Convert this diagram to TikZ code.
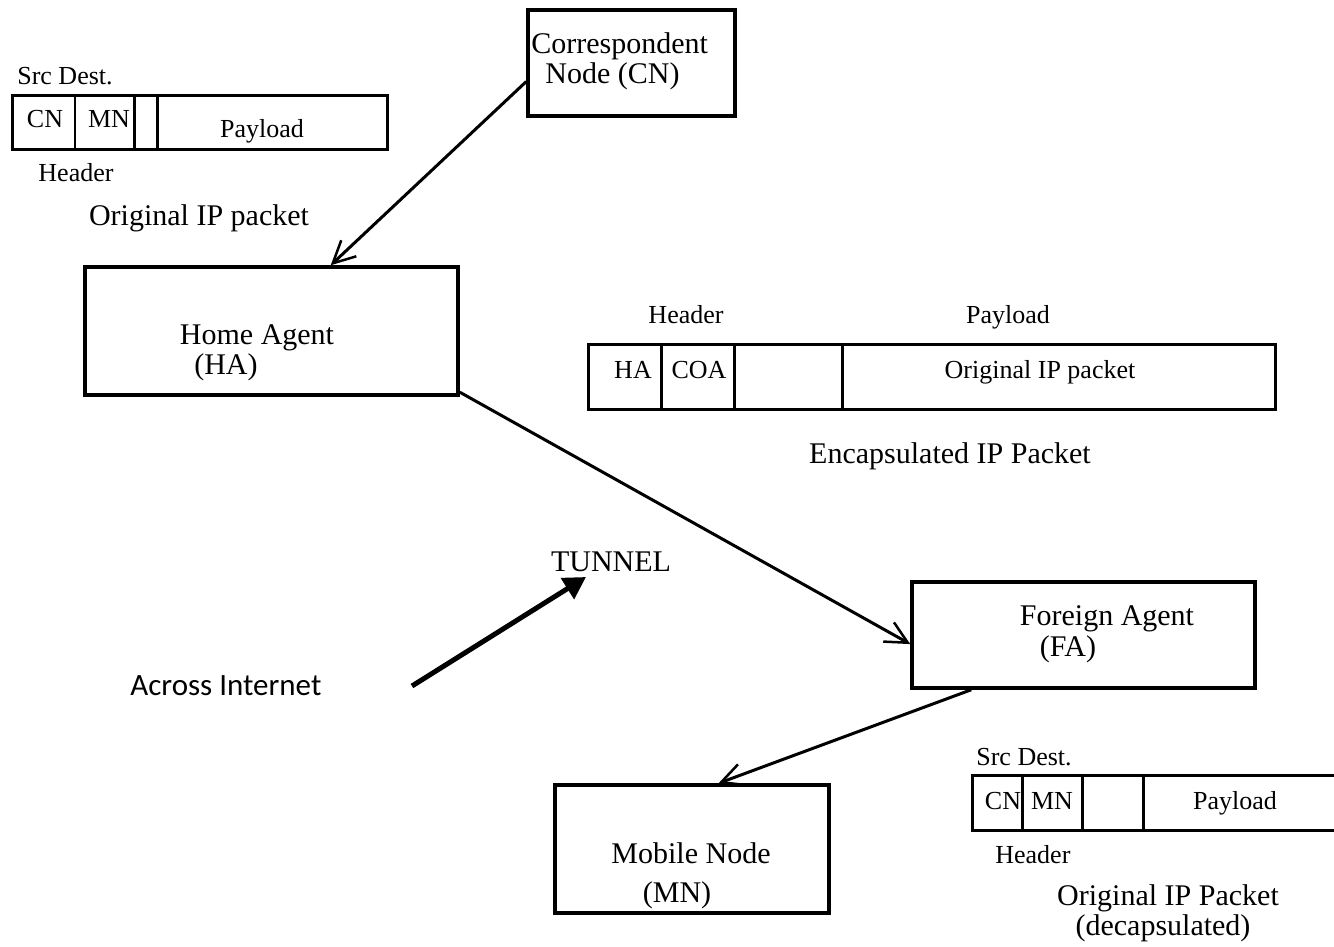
\documentclass[tikz,border=0pt]{standalone}
\usepackage{fontspec}
\setmainfont{Liberation Serif}
\newfontfamily\calibfont{Carlito}
\usetikzlibrary{arrows.meta}

\tikzset{every picture/.style={line width=0.75pt}}
\tikzset{
  agentbox/.style={draw, line width=3.5pt, rectangle, inner sep=0pt},
  pkt/.style={line width=3pt},
  thindiv/.style={line width=1.5pt},
  txt/.style={inner sep=0pt, anchor=base, font=\fontsize{26}{28}\selectfont},
  bigtxt/.style={inner sep=0pt, anchor=base, font=\fontsize{30}{32}\selectfont},
  link/.style={line width=3pt, -{Straight Barb[length=22pt,width=22pt,line width=2.5pt]}},
  pointer/.style={line width=5pt, -{Triangle[length=22pt,width=24pt]}}
}

\begin{document}
\begin{tikzpicture}[x=1pt,y=1pt,yscale=-1]
	\clip (0,0) rectangle (1334,946);

	%Shape: Agents
	\node[agentbox, minimum width=207pt, minimum height=106pt] (cn) at (631.5,63) {};
	\node[agentbox, minimum width=373pt, minimum height=128pt] (ha) at (271.5,331) {};
	\node[agentbox, minimum width=343pt, minimum height=106pt] (fa) at (1083.5,635) {};
	\node[agentbox, minimum width=274pt, minimum height=128pt] (mn) at (692,849) {};

	% Text Node
	\node[bigtxt, anchor=base west] (cntop) at (531,53) {Correspondent};
	\node[bigtxt, anchor=base west] (cnbot) at (545,83) {Node (CN)};
	\node[bigtxt] (hatop) at (257,344) {Home Agent};
	\node[bigtxt] (habot) at (226,374) {(HA)};
	\node[bigtxt] (fatop) at (1107,625) {Foreign Agent};
	\node[bigtxt] (fabot) at (1068,656) {(FA)};
	\node[bigtxt] (mntop) at (691,863) {Mobile Node};
	\node[bigtxt] (mnbot) at (677,902) {(MN)};

	%Shape: Original packet
	\draw[pkt] (12,95) rectangle (387,149);
	\draw[thindiv] (75,95) -- (75,149);
	\draw[pkt] (134,95) -- (134,149) (157,95) -- (157,149);
	\node[txt] (srcorig) at (65,84) {Src Dest.};
	\node[txt] (cnorig) at (45,127) {CN};
	\node[txt] (mnorig) at (109,127) {MN};
	\node[txt] (payorig) at (262,137) {Payload};
	\node[txt] (hdrorig) at (76,181) {Header};
	\node[bigtxt] (origpkt) at (199,225) {Original IP packet};

	%Shape: Encapsulated packet
	\draw[pkt] (588,344) rectangle (1275,409);
	\draw[pkt] (661,344) -- (661,409) (734,344) -- (734,409) (842,344) -- (842,409);
	\node[txt] (hdrenc) at (686,323) {Header};
	\node[txt] (payenc) at (1008,323) {Payload};
	\node[txt] (haenc) at (633,378) {HA};
	\node[txt] (coaenc) at (699,378) {COA};
	\node[txt] (innerpkt) at (1040,378) {Original IP packet};
	\node[bigtxt] (encpkt) at (950,463) {Encapsulated IP Packet};

	%Shape: Decapsulated packet
	\draw[pkt] (972,775) rectangle (1345,830);
	\draw[pkt] (1022,775) -- (1022,830) (1082,775) -- (1082,830) (1143,775) -- (1143,830);
	\node[txt, anchor=base west] (srcdec) at (976,765) {Src Dest.};
	\node[txt] (cndec) at (1003,809) {CN};
	\node[txt] (mndec) at (1052,809) {MN};
	\node[txt] (paydec) at (1235,809) {Payload};
	\node[txt, anchor=base west] (hdrdec) at (995,863) {Header};
	\node[bigtxt] (decpkt) at (1168,905) {Original IP Packet};
	\node[bigtxt] (decnote) at (1163,935) {(decapsulated)};

	% Text Node
	\node[bigtxt] (tunnel) at (611,571) {TUNNEL};
	\node[inner sep=0pt, anchor=base west, font=\calibfont\fontsize{31}{33}\selectfont] (inet) at (130,695) {Across Internet};

	%Straight Lines
	\draw[link] (cn.190) -- (ha.48);
	\draw[link] (ha.-18) -- (fa.183);
	\draw[link] (fa.206) -- (mn.68);
	\coordinate (inetfrom) at (412,686);
	\coordinate (inetto) at (586,577);
	\draw[pointer] (inetfrom) -- (inetto);

\end{tikzpicture}
\end{document}
